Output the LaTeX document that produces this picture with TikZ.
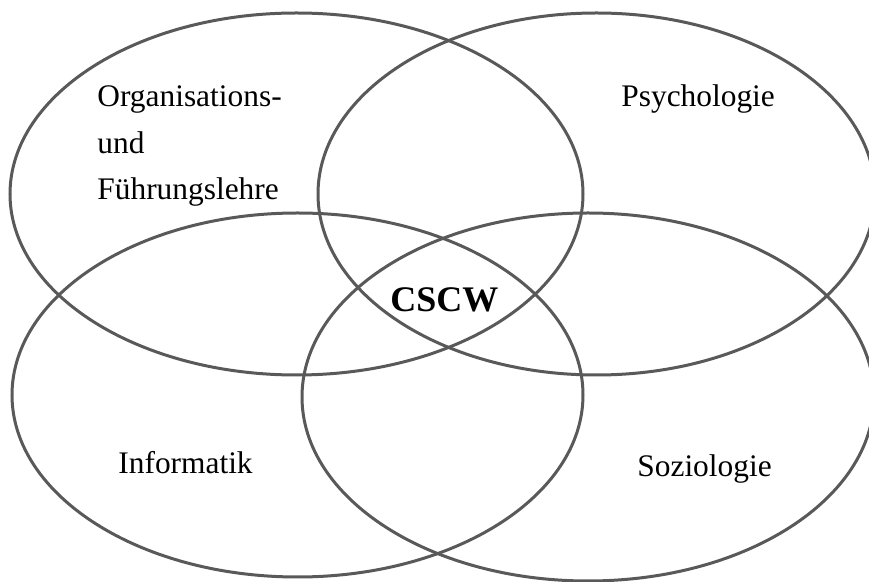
\documentclass[tikz,border=0pt]{standalone}
\usepackage{fontspec}
\setmainfont{Liberation Serif}
\usetikzlibrary{shapes.geometric}
\definecolor{cRing}{HTML}{595959}
\definecolor{cInk}{HTML}{000000}
\tikzset{
  field/.style ={ellipse,draw=cRing,line width=1.5pt,inner sep=0pt},
  lbl/.style   ={anchor=base west,inner sep=0pt,text=cInk,
                 font=\fontsize{15.7}{23.25}\selectfont},
  core/.style  ={lbl,font=\fontsize{18}{22}\selectfont\bfseries},
}
\begin{document}
\begin{tikzpicture}[x=0.5pt,y=-0.5pt]
\useasboundingbox (0,0) rectangle (869,582);
% the four fields
\node[field,minimum width=286.5pt,minimum height=181pt] (org) at (296.5,194) {};
\node[field,minimum width=278.5pt,minimum height=181pt] (psy) at (596.5,194) {};
\node[field,minimum width=285.5pt,minimum height=182pt] (inf) at (297.5,395) {};
\node[field,minimum width=286pt,minimum height=184pt]   (soz) at (588,397) {};

% base of a wrapped label is its last line
\node[lbl,align=left] (torg) at (97,200) {Organisations-\\und\\Führungslehre};
\node[lbl] (tpsy) at (621,107) {Psychologie};
\node[lbl] (tinf) at (118,474) {Informatik};
\node[lbl] (tsoz) at (637,477) {Soziologie};
\node[core] (cscw) at (390,312) {CSCW};
\end{tikzpicture}
\end{document}
